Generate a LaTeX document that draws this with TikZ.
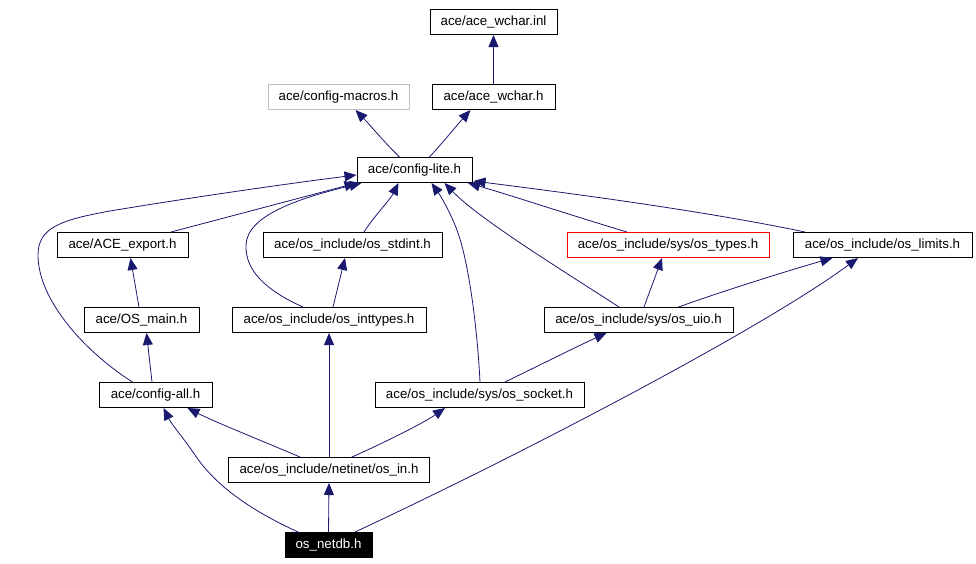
\documentclass[tikz,border=0pt]{standalone}
\usepackage{fontspec}
\setmainfont{Liberation Sans}
\usetikzlibrary{arrows.meta,calc}
\definecolor{edgeblue}{HTML}{191970}
\definecolor{graybox}{HTML}{BFBFBF}
\begin{document}
\begin{tikzpicture}[x=1pt,y=-1pt,
  box/.style={draw=black,line width=1pt,fill=white,minimum height=25pt,inner sep=0pt,
    font=\fontsize{13.3}{16}\selectfont},
  grayframe/.style={box,draw=graybox},
  redframe/.style={box,draw=red},
  rootbox/.style={box,fill=black,text=white},
  dep/.style={draw=edgeblue,line width=0.8pt,-{Triangle[length=12pt,width=10pt]}}
]
\useasboundingbox (0,0) rectangle (976,563);
% nodes
\node[box,minimum width=127pt] (wi) at (493.5,22) {ace/ace\_wchar.inl};
\node[grayframe,minimum width=141pt] (cm) at (338.5,97) {ace/config-macros.h};
\node[box,minimum width=123pt] (wh) at (493.5,97) {ace/ace\_wchar.h};
\node[box,minimum width=115pt] (cl) at (414.5,170) {ace/config-lite.h};
\node[box,minimum width=131pt] (ex) at (122.5,245) {ace/ACE\_export.h};
\node[box,minimum width=179pt] (sd) at (352.5,245) {ace/os\_include/os\_stdint.h};
\node[redframe,minimum width=202pt] (ty) at (668,245) {ace/os\_include/sys/os\_types.h};
\node[box,minimum width=179pt] (li) at (882.5,245) {ace/os\_include/os\_limits.h};
\node[box,minimum width=115pt] (om) at (141.5,320) {ace/OS\_main.h};
\node[box,minimum width=194pt] (it) at (329,320) {ace/os\_include/os\_inttypes.h};
\node[box,minimum width=189pt] (uio) at (638.5,320) {ace/os\_include/sys/os\_uio.h};
\node[box,minimum width=113pt] (ca) at (155.5,395) {ace/config-all.h};
\node[box,minimum width=209pt] (so) at (479.5,395) {ace/os\_include/sys/os\_socket.h};
\node[box,minimum width=201pt] (oi) at (329,470) {ace/os\_include/netinet/os\_in.h};
\node[rootbox,minimum width=87pt] (nd) at (328.5,545) {os\_netdb.h};
% edges
\draw[dep] (wh.north) -- (wi.south);
\draw[dep] ($(cl.north)+(-15,0)$) .. controls (385,143) and (370,125) .. ($(cm.south)+(17,0)$);
\draw[dep] ($(cl.north)+(15,0)$) .. controls (445,140) and (458,124) .. ($(wh.south)+(-23,0)$);
\draw[dep] ($(ex.north)+(48.5,0)$) -- (cl.south west);
\draw[dep] ($(ca.north)+(-23,0)$) .. controls (85,352) and (38,300) .. (38,255)
   .. controls (38,228) and (60,220) .. (110,211) .. controls (200,196) and (300,182) .. ($(cl.west)+(0,5)$);
\draw[dep] ($(om.north)+(-2.5,0)$) -- ($(ex.south)+(8,0)$);
\draw[dep] ($(ca.north)+(-3.5,0)$) -- ($(om.south)+(5,0)$);
\draw[dep] ($(it.north)+(-26,0)$) .. controls (265,290) and (245,270) .. (246,245)
   .. controls (247,215) and (300,198) .. ($(cl.south west)+(5,0)$);
\draw[dep] ($(it.north)+(4,0)$) -- ($(sd.south)+(-7.5,0)$);
\draw[dep] ($(sd.north)+(11.5,0)$) .. controls (375,215) and (390,200) .. ($(cl.south)+(-16,0)$);
\draw[dep] ($(so.north)+(0.5,0)$) .. controls (478,340) and (470,260) .. (455,225)
   .. controls (448,208) and (440,195) .. ($(cl.south)+(17,0)$);
\draw[dep] ($(uio.north)+(-19.5,0)$) .. controls (570,275) and (480,220) .. ($(cl.south)+(30,0)$);
\draw[dep] ($(ty.north)+(-41,0)$) .. controls (570,215) and (510,195) .. ($(cl.south)+(53.5,0)$);
\draw[dep] ($(li.north)+(-77.5,0)$) .. controls (700,210) and (560,192) .. ($(cl.south east)+(1,-2)$);
\draw[dep] ($(uio.north)+(5.5,0)$) -- ($(ty.south)+(-6,0)$);
\draw[dep] ($(uio.north)+(40,0)$) .. controls (720,292) and (790,270) .. ($(li.south)+(-50,0)$);
\draw[dep] ($(so.north)+(25.5,0)$) .. controls (540,365) and (580,345) .. ($(uio.south)+(-32,0)$);
\draw[dep] ($(oi.north)+(-29,0)$) .. controls (260,440) and (215,422) .. ($(ca.south)+(32,0)$);
\draw[dep] (oi.north) -- (it.south);
\draw[dep] ($(oi.north)+(23,0)$) .. controls (390,440) and (425,422) .. ($(so.south)+(-34.5,0)$);
\draw[dep] ($(nd.north)+(-30.5,0)$) .. controls (250,510) and (215,485) .. (195,455)
   .. controls (185,440) and (172,425) .. ($(ca.south)+(8,0)$);
\draw[dep] (nd.north) -- (oi.south);
\draw[dep] ($(nd.north)+(26.5,0)$) .. controls (520,455) and (760,330) .. ($(li.south)+(-24.5,0)$);
\end{tikzpicture}
\end{document}
